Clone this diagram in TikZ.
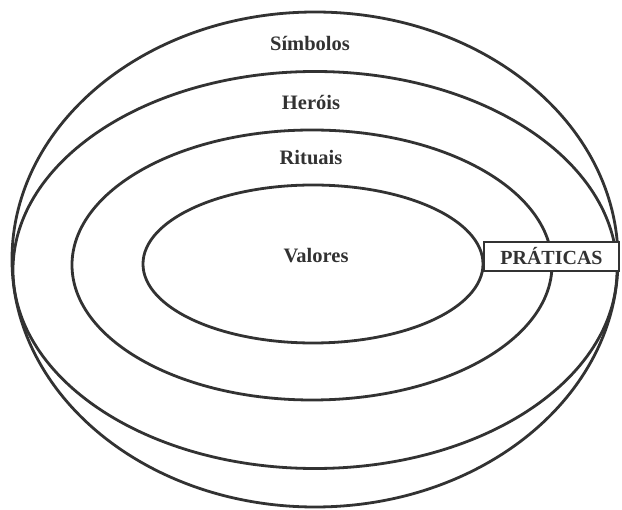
\documentclass[tikz,border=0pt]{standalone}
\usepackage{fontspec}
\setmainfont{Liberation Serif}
\usepackage{xcolor}
\usepackage{tikz}
\usetikzlibrary{shapes.geometric}
\definecolor{ink}{RGB}{50,50,50}
\tikzset{
  ring/.style={ellipse, draw=ink, line width=2.8pt, inner sep=0pt},
  lbl/.style={font=\bfseries\fontsize{20.5}{24}\selectfont, text=ink},
  tag/.style={draw=ink, line width=2.8pt, fill=white, inner sep=0pt, font=\bfseries\fontsize{20}{24}\selectfont, text=ink}
}
\begin{document}
\begin{tikzpicture}[x=1pt, y=-1pt]
\useasboundingbox (0,0) rectangle (622,510);
% layers, outside in
\node[ring, minimum width=606pt, minimum height=495pt] (simbolos) at (315,259.5) {};
\node[ring, minimum width=604pt, minimum height=397pt] (herois) at (315,270) {};
\node[ring, minimum width=480pt, minimum height=270pt] (rituais) at (312,265) {};
\node[ring, minimum width=340pt, minimum height=158pt] (valores) at (313,264) {};
% layer names
\node[lbl] (tsimbolos) at (310,43) {Símbolos};
\node[lbl] (therois) at (311,102) {Heróis};
\node[lbl] (trituais) at (311,158) {Rituais};
\node[lbl] (tvalores) at (316,256) {Valores};
% band across the rings
\node[tag, minimum width=135pt, minimum height=29pt] (praticas) at (551.5,256.5) {PRÁTICAS};
\end{tikzpicture}
\end{document}
